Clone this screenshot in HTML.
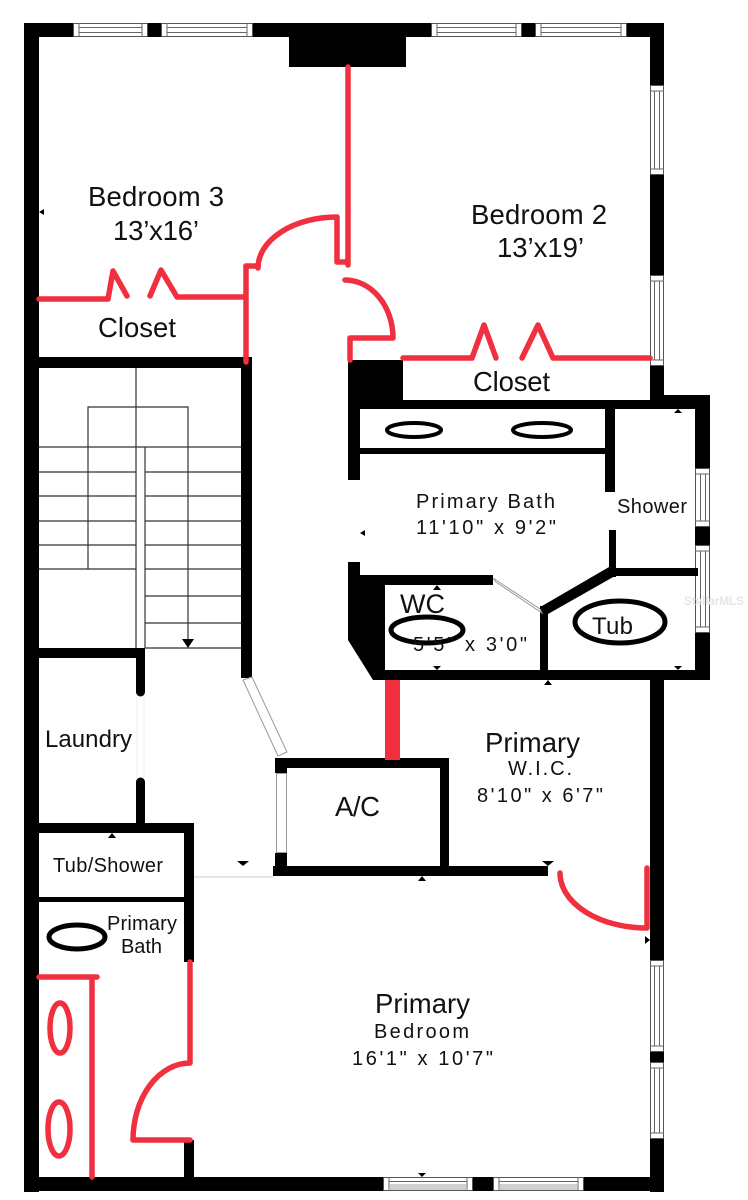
<!DOCTYPE html>
<html><head><meta charset="utf-8"><style>
html,body{margin:0;padding:0;background:#fff;}
svg{display:block;}
text{font-family:"Liberation Sans",Arial,sans-serif;fill:#111;}
</style></head><body>
<svg width="748" height="1200" viewBox="0 0 748 1200" xmlns="http://www.w3.org/2000/svg">
<rect width="748" height="1200" fill="#fff"/>

<!-- ===== Outer walls ===== -->
<g fill="#000">
  <rect x="24" y="23" width="15" height="1169"/>
  <rect x="24" y="23" width="49" height="14"/>
  <rect x="148" y="23" width="13" height="14"/>
  <rect x="253" y="23" width="36" height="14"/>
  <rect x="289" y="23" width="117" height="44"/>
  <rect x="406" y="23" width="25" height="14"/>
  <rect x="522" y="23" width="13" height="14"/>
  <rect x="627" y="23" width="37" height="14"/>
  <rect x="650" y="23" width="14" height="62"/>
  <rect x="650" y="175" width="14" height="100"/>
  <rect x="650" y="366" width="14" height="43"/>
  <rect x="664" y="395" width="46" height="14"/>
  <rect x="348" y="400" width="316" height="9"/>
  <rect x="695" y="395" width="15" height="73"/>
  <rect x="695" y="527" width="15" height="18"/>
  <rect x="695" y="633" width="15" height="47"/>
  <rect x="373" y="670" width="337" height="10"/>
  <rect x="650" y="680" width="14" height="280"/>
  <rect x="650" y="1052" width="14" height="10"/>
  <rect x="650" y="1139" width="14" height="53"/>
  <rect x="24" y="1177" width="359" height="14"/>
  <rect x="473" y="1177" width="20" height="14"/>
  <rect x="584" y="1177" width="80" height="14"/>
</g>

<!-- ===== Windows ===== -->
<g fill="#fff" stroke="#555" stroke-width="1">
  <rect x="73.5" y="23.5" width="74" height="13"/>
  <rect x="161.5" y="23.5" width="91" height="13"/>
  <rect x="431.5" y="23.5" width="90" height="13"/>
  <rect x="535.5" y="23.5" width="91" height="13"/>
  <rect x="650.5" y="85.5" width="13" height="89"/>
  <rect x="650.5" y="275.5" width="13" height="90"/>
  <rect x="695.5" y="468.5" width="14" height="58"/>
  <rect x="695.5" y="545.5" width="14" height="87"/>
  <rect x="650.5" y="960.5" width="13" height="91"/>
  <rect x="650.5" y="1062.5" width="13" height="76"/>
  <rect x="383.5" y="1177.5" width="89" height="13"/>
  <rect x="493.5" y="1177.5" width="90" height="13"/>
</g>
<g stroke="#666" stroke-width="1" fill="none">
  <path d="M79 27.5H142M79 32.5H142M79 23V37M142 23V37"/>
  <path d="M167 27.5H247M167 32.5H247M167 23V37M247 23V37"/>
  <path d="M437 27.5H516M437 32.5H516M437 23V37M516 23V37"/>
  <path d="M541 27.5H621M541 32.5H621M541 23V37M621 23V37"/>
  <path d="M654.5 91V169M659.5 91V169M650 91H664M650 169H664"/>
  <path d="M654.5 281V360M659.5 281V360M650 281H664M650 360H664"/>
  <path d="M700.5 474V521M705.5 474V521M695 474H710M695 521H710"/>
  <path d="M700.5 551V627M705.5 551V627M695 551H710M695 627H710"/>
  <path d="M654.5 966V1046M659.5 966V1046M650 966H664M650 1046H664"/>
  <path d="M654.5 1068V1133M659.5 1068V1133M650 1068H664M650 1133H664"/>
  <path d="M389 1181.5H467M389 1177V1191M467 1177V1191"/>
  <path d="M499 1181.5H578M499 1177V1191M578 1177V1191"/>
</g>
<rect x="390" y="1184" width="76" height="6" fill="#d0d0d0"/>
<rect x="500" y="1184" width="77" height="6" fill="#d0d0d0"/>

<!-- ===== Interior walls ===== -->
<g fill="#000">
  <rect x="39" y="357" width="209" height="11"/>
  <rect x="241" y="357" width="11" height="321"/>
  <rect x="39" y="648" width="106" height="10"/>
  <rect x="136" y="648" width="9" height="44"/>
  <circle cx="140.5" cy="692" r="4.5"/>
  <rect x="136" y="782" width="9" height="41"/>
  <circle cx="140.5" cy="782" r="4.5"/>
  <rect x="39" y="823" width="155" height="10"/>
  <rect x="184" y="823" width="10" height="139"/>
  <rect x="39" y="897" width="145" height="5"/>
  <rect x="184" y="1140" width="10" height="37"/>
  <rect x="275" y="758" width="174" height="10"/>
  <rect x="440" y="758" width="9" height="118"/>
  <rect x="273" y="866" width="275" height="10"/>
  <rect x="275" y="758" width="12" height="15"/>
  <rect x="275" y="853" width="12" height="23"/>
  <rect x="348" y="360" width="55" height="40"/>
  <rect x="348" y="400" width="12" height="80"/>
  <rect x="360" y="448" width="245" height="6"/>
  <rect x="605" y="409" width="10" height="83"/>
  <rect x="609" y="530" width="7" height="47"/>
  <rect x="609" y="568" width="89" height="8"/>
  <polygon points="609,567 615,576 548,614 542,606"/>
  <rect x="540" y="606" width="8" height="64"/>
  <polygon points="348,562 360,562 360,575 493,575 493,585 385,585 385,680 373,680 348,640"/>
</g>

<!-- door openings -->
<g fill="#fff" stroke="#999" stroke-width="1">
  <polygon points="243,680 252,677 287,752 278,756"/>
  <rect x="276.5" y="773.5" width="10" height="79"/>
  <polygon points="493,578 496,582 542,613 540,609"/>
</g>
<line x1="194" y1="877" x2="273" y2="877" stroke="#ccc" stroke-width="1"/>
<line x1="137" y1="697" x2="137" y2="778" stroke="#eee" stroke-width="1"/>
<line x1="144" y1="697" x2="144" y2="778" stroke="#eee" stroke-width="1"/>

<!-- ===== Stairs ===== -->
<g stroke="#333" stroke-width="1.2" fill="none">
  <path d="M136 368V648M145 447V648M136 447H145"/>
  <path d="M39 447H136M39 472H136M39 496H136M39 521H136M39 545H136M39 569H136"/>
  <path d="M145 447H241M145 472H241M145 496H241M145 521H241M145 545H241M145 569H241M145 596H241M145 623H241M145 648H241"/>
  <path d="M88 569V407H188V640"/>
</g>
<polygon points="182,639 194,639 188,648" fill="#000"/>

<!-- ===== Fixtures ===== -->
<g fill="none" stroke="#000">
  <ellipse cx="414" cy="430" rx="27" ry="7" stroke-width="4"/>
  <ellipse cx="542" cy="430" rx="29" ry="7" stroke-width="4"/>
  <ellipse cx="427" cy="630" rx="36" ry="13" stroke-width="5"/>
  <ellipse cx="620" cy="622" rx="45" ry="21" stroke-width="5"/>
  <ellipse cx="77" cy="937" rx="28" ry="12" stroke-width="5"/>
</g>

<!-- ===== Red overlays ===== -->
<g fill="none" stroke="#f0303f" stroke-width="5.5" stroke-linecap="round" stroke-linejoin="round">
  <path d="M39 299H108L113 271L127 296"/>
  <path d="M150 296L161 270L177 297H245"/>
  <path d="M246 266V362"/>
  <path d="M246 266H258"/>
  <path d="M258 268A79 51 0 0 1 337 217V262H347"/>
  <path d="M348 67V265"/>
  <path d="M345 280A48 58 0 0 1 393 338H350V360"/>
  <path d="M403 358H472L484 325L496 358"/>
  <path d="M522 358L538 325L553 358H650"/>
  <path d="M560 873A87 55 0 0 0 647 928V868"/>
  <path d="M39 977H97M92 977V1177"/>
  <ellipse cx="60" cy="1028" rx="10" ry="25"/>
  <ellipse cx="59" cy="1129" rx="11" ry="27"/>
  <path d="M190 962V1063A57 77 0 0 0 133 1140H190"/>
</g>
<rect x="385" y="680" width="15" height="80" fill="#f0303f"/>

<!-- ===== small markers ===== -->
<g fill="#000">
  <polygon points="39,212 44,209 44,215"/>
  <polygon points="664,212 659,209 659,215"/>
  <polygon points="360,533 365,530 365,536"/>
  <polygon points="243,866 237,861 249,861"/>
  <polygon points="548,866 542,861 554,861"/>
  <polygon points="422,876 418,881 426,881"/>
  <polygon points="548,680 544,685 552,685"/>
  <polygon points="678,409 674,413 682,413"/>
  <polygon points="678,670 674,666 682,666"/>
  <polygon points="437,670 433,666 441,666"/>
  <polygon points="437,585 433,590 441,590"/>
  <polygon points="112,833 108,838 116,838"/>
  <polygon points="650,940 645,936 645,944"/>
  <polygon points="422,1177 418,1173 426,1173"/>
</g>

<!-- ===== Labels ===== -->
<text x="88" y="206" font-size="27.5" textLength="136">Bedroom 3</text>
<text x="113" y="240" font-size="27.5" textLength="86">13’x16’</text>
<text x="98" y="337" font-size="27.5" textLength="78">Closet</text>
<text x="471" y="224" font-size="27.5" textLength="136">Bedroom 2</text>
<text x="497" y="257" font-size="27.5" textLength="87">13’x19’</text>
<text x="473" y="391" font-size="27.5" textLength="77">Closet</text>

<text x="416" y="508" font-size="20" textLength="139">Primary Bath</text>
<text x="416" y="534" font-size="20" textLength="140">11'10" x 9'2"</text>
<text x="617" y="513" font-size="20" textLength="70">Shower</text>
<text x="400" y="613" font-size="27" textLength="45">WC</text>
<text x="413" y="651" font-size="20" textLength="114">5'5" x 3'0"</text>
<text x="592" y="634" font-size="24" textLength="41">Tub</text>

<text x="45" y="747" font-size="24" textLength="87">Laundry</text>
<text x="335" y="816" font-size="27.5" textLength="45">A/C</text>
<text x="485" y="752" font-size="27.5" textLength="95">Primary</text>
<text x="508" y="775" font-size="20" textLength="64">W.I.C.</text>
<text x="477" y="802" font-size="20" textLength="126">8'10" x 6'7"</text>
<text x="53" y="872" font-size="20" textLength="110">Tub/Shower</text>

<text x="107" y="930" font-size="20" textLength="70">Primary</text>
<text x="121" y="953" font-size="20" textLength="41">Bath</text>

<text x="375" y="1013" font-size="27.5" textLength="95">Primary</text>
<text x="374" y="1038" font-size="20" textLength="95">Bedroom</text>
<text x="352" y="1065" font-size="20" textLength="141">16'1" x 10'7"</text>

<text x="684" y="605" font-size="12" font-weight="bold" textLength="60" style="fill:#e6e6e6">StellarMLS</text>
</svg>
</body></html>
